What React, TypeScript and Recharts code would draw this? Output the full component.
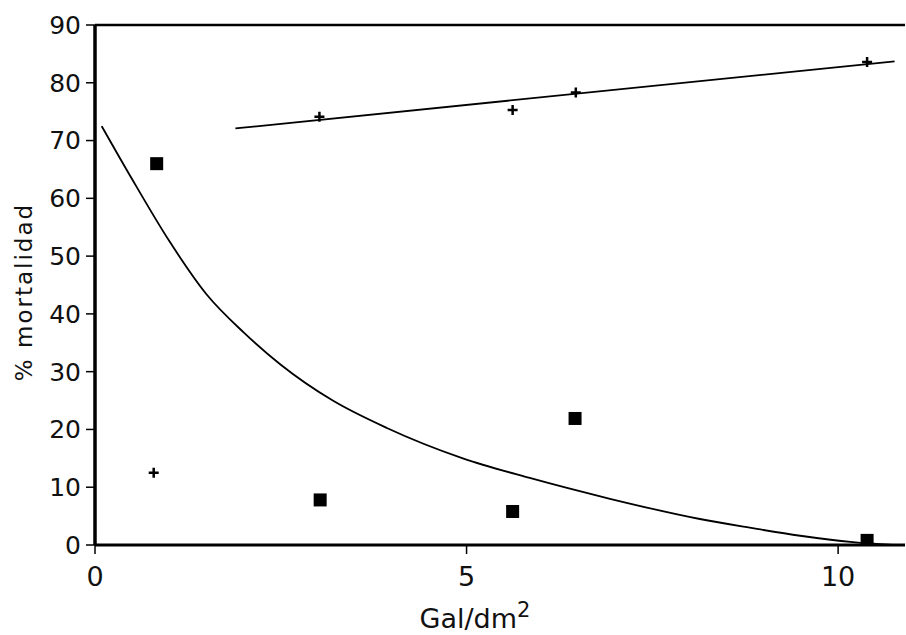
import {
  ComposedChart,
  Line,
  Scatter,
  XAxis,
  YAxis,
  ReferenceLine,
  Label,
} from 'recharts';

// values
const SQUARE_X = [0.83, 3.03, 5.62, 6.46, 10.39];
const SQUARE_Y = [66.0, 7.8, 5.8, 21.9, 0.8];

const PLUS_X = [0.79, 3.02, 5.62, 6.47, 10.39];
const PLUS_Y = [12.5, 74.1, 75.3, 78.3, 83.6];

const FIT_X = [1.89, 10.76];
const FIT_Y = [72.1, 83.7];

const CURVE_X = [0.09, 0.5, 1.0, 1.5, 2.0, 2.5, 3.2, 3.92, 4.95, 5.85, 6.93, 8.14, 8.81, 9.49, 10.2, 10.74];
const CURVE_Y = [72.5, 63.3, 52.6, 43.4, 36.8, 31.2, 25.0, 20.3, 15.0, 11.6, 8.0, 4.5, 3.0, 1.6, 0.5, 0];

const X_TICKS = [0, 5, 10];
const Y_TICKS = [0, 10, 20, 30, 40, 50, 60, 70, 80, 90];

const FONT = '"DejaVu Sans", sans-serif';

function zip(xs: number[], ys: number[]) {
  return xs.map((x, i) => ({ x, y: ys[i] }));
}

function SquareDot(props: any) {
  const { cx, cy } = props;
  if (cx == null || cy == null) return null;
  return <rect x={cx - 6.5} y={cy - 6.5} width={13} height={13} fill="#000" />;
}

function PlusDot(props: any) {
  const { cx, cy } = props;
  if (cx == null || cy == null) return null;
  return (
    <path
      d={`M${cx - 5},${cy}H${cx + 5}M${cx},${cy - 5}V${cy + 5}`}
      stroke="#000"
      strokeWidth={2.5}
    />
  );
}

function XTitle(props: any) {
  const vb = props.viewBox;
  return (
    <text
      x={vb.x + 380}
      y={vb.y + 83}
      textAnchor="middle"
      fontFamily={FONT}
      fontSize={27}
      fill="#111"
    >
      Gal/dm
      <tspan dy={-11} fontSize={21}>2</tspan>
    </text>
  );
}

function YTitle() {
  return (
    <text
      x={0}
      y={0}
      transform="translate(32,292) rotate(-90)"
      textAnchor="middle"
      fontFamily={FONT}
      fontSize={23}
      letterSpacing={2}
      fill="#111"
    >
      % mortalidad
    </text>
  );
}

export default function App() {
  const squares = zip(SQUARE_X, SQUARE_Y);
  const pluses = zip(PLUS_X, PLUS_Y);
  const fit = zip(FIT_X, FIT_Y);
  const curve = zip(CURVE_X, CURVE_Y);

  return (
    <div style={{ position: 'absolute', left: 0, top: 0, background: '#fff' }}>
      <ComposedChart
        width={906}
        height={635}
        margin={{ top: 25, right: 1, bottom: 0, left: 0 }}
      >
        <XAxis
          type="number"
          dataKey="x"
          domain={[0, 10.9]}
          ticks={X_TICKS}
          allowDataOverflow
          height={90}
          axisLine={{ stroke: '#000', strokeWidth: 3 }}
          tickLine={{ stroke: '#000', strokeWidth: 1.5 }}
          tickSize={9}
          tickMargin={13}
          tick={{ fill: '#111', fontSize: 27, fontFamily: FONT }}
        >
          <Label content={XTitle} />
        </XAxis>
        <YAxis
          type="number"
          dataKey="y"
          domain={[0, 90]}
          ticks={Y_TICKS}
          width={95}
          allowDataOverflow
          axisLine={{ stroke: '#000', strokeWidth: 3.5 }}
          tickLine={{ stroke: '#000', strokeWidth: 1.5 }}
          tickSize={9}
          tickMargin={5}
          tick={{ fill: '#111', fontSize: 25, fontFamily: FONT }}
        >
          <Label content={YTitle} />
        </YAxis>
        <ReferenceLine y={90} stroke="#000" strokeWidth={2.5} />
        <Line
          data={curve}
          dataKey="y"
          type="monotone"
          stroke="#000"
          strokeWidth={1.8}
          dot={false}
          activeDot={false}
          isAnimationActive={false}
        />
        <Line
          data={fit}
          dataKey="y"
          type="linear"
          stroke="#000"
          strokeWidth={1.8}
          dot={false}
          activeDot={false}
          isAnimationActive={false}
        />
        <Scatter data={squares} dataKey="y" shape={SquareDot} isAnimationActive={false} />
        <Scatter data={pluses} dataKey="y" shape={PlusDot} isAnimationActive={false} />
      </ComposedChart>
    </div>
  );
}
